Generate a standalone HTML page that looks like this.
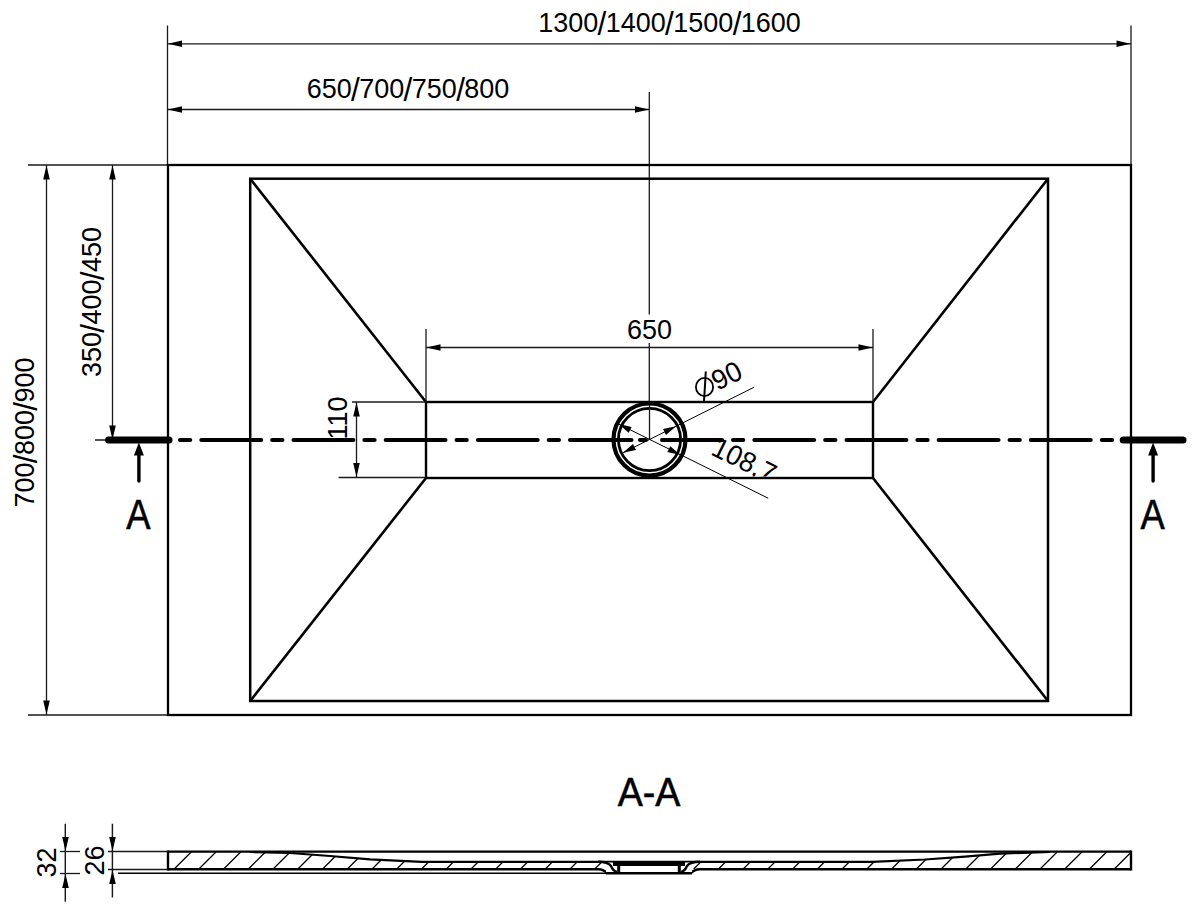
<!DOCTYPE html>
<html><head><meta charset="utf-8"><style>
html,body{margin:0;padding:0;background:#fff;}
svg{display:block;}
text{font-family:"Liberation Sans",sans-serif;fill:#000;}
</style></head><body>
<svg width="1200" height="904" viewBox="0 0 1200 904">
<rect width="1200" height="904" fill="#fff"/>
<line x1="167.5" y1="25.5" x2="167.5" y2="165" stroke="#1a1a1a" stroke-width="1.3" />
<line x1="1131" y1="25.5" x2="1131" y2="165" stroke="#1a1a1a" stroke-width="1.3" />
<line x1="167.5" y1="43.8" x2="1131" y2="43.8" stroke="#1a1a1a" stroke-width="1.3" />
<polygon points="168.00,43.80 182.00,40.50 182.00,47.10" fill="#000"/>
<polygon points="1130.50,43.80 1116.50,47.10 1116.50,40.50" fill="#000"/>
<text transform="translate(669.5 31.5) scale(0.957 1)" font-size="28.2" text-anchor="middle" >1300<tspan dx="-0.67" dy="3.30" font-size="33.00">/</tspan><tspan dx="-0.67" dy="-3.30">1400</tspan><tspan dx="-0.67" dy="3.30" font-size="33.00">/</tspan><tspan dx="-0.67" dy="-3.30">1500</tspan><tspan dx="-0.67" dy="3.30" font-size="33.00">/</tspan><tspan dx="-0.67" dy="-3.30">1600</tspan></text>
<line x1="167.5" y1="109.5" x2="649.5" y2="109.5" stroke="#1a1a1a" stroke-width="1.3" />
<polygon points="168.00,109.50 182.00,106.20 182.00,112.80" fill="#000"/>
<polygon points="649.00,109.50 635.00,112.80 635.00,106.20" fill="#000"/>
<text transform="translate(408 97.5) scale(0.957 1)" font-size="28.2" text-anchor="middle" >650<tspan dx="-0.67" dy="3.30" font-size="33.00">/</tspan><tspan dx="-0.67" dy="-3.30">700</tspan><tspan dx="-0.67" dy="3.30" font-size="33.00">/</tspan><tspan dx="-0.67" dy="-3.30">750</tspan><tspan dx="-0.67" dy="3.30" font-size="33.00">/</tspan><tspan dx="-0.67" dy="-3.30">800</tspan></text>
<line x1="649.3" y1="92" x2="649.3" y2="314.6" stroke="#1a1a1a" stroke-width="1.3" />
<line x1="649.3" y1="342.9" x2="649.3" y2="440" stroke="#1a1a1a" stroke-width="1.3" />
<line x1="28" y1="165" x2="167" y2="165" stroke="#1a1a1a" stroke-width="1.3" />
<line x1="28" y1="715" x2="167" y2="715" stroke="#1a1a1a" stroke-width="1.3" />
<line x1="95" y1="440" x2="167" y2="440" stroke="#1a1a1a" stroke-width="1.3" />
<line x1="46.5" y1="165" x2="46.5" y2="715" stroke="#1a1a1a" stroke-width="1.3" />
<polygon points="46.50,165.50 49.80,179.50 43.20,179.50" fill="#000"/>
<polygon points="46.50,714.50 43.20,700.50 49.80,700.50" fill="#000"/>
<line x1="112.5" y1="165" x2="112.5" y2="440" stroke="#1a1a1a" stroke-width="1.3" />
<polygon points="112.50,165.50 115.80,179.50 109.20,179.50" fill="#000"/>
<polygon points="112.50,439.50 109.20,425.50 115.80,425.50" fill="#000"/>
<text transform="translate(34 432.5) rotate(-90) scale(0.957 1)" font-size="28.2" text-anchor="middle" >700<tspan dx="-0.67" dy="3.30" font-size="33.00">/</tspan><tspan dx="-0.67" dy="-3.30">800</tspan><tspan dx="-0.67" dy="3.30" font-size="33.00">/</tspan><tspan dx="-0.67" dy="-3.30">900</tspan></text>
<text transform="translate(101 302) rotate(-90) scale(0.957 1)" font-size="28.2" text-anchor="middle" >350<tspan dx="-0.67" dy="3.30" font-size="33.00">/</tspan><tspan dx="-0.67" dy="-3.30">400</tspan><tspan dx="-0.67" dy="3.30" font-size="33.00">/</tspan><tspan dx="-0.67" dy="-3.30">450</tspan></text>
<rect x="168" y="165" width="963" height="550" fill="none" stroke="#000" stroke-width="2.3"/>
<rect x="250.2" y="178.7" width="797.8" height="522.3" fill="none" stroke="#000" stroke-width="2.5"/>
<rect x="426" y="402" width="447" height="76" fill="none" stroke="#000" stroke-width="2.4"/>
<line x1="250.2" y1="178.7" x2="426" y2="402" stroke="#000" stroke-width="2.6" />
<line x1="250.2" y1="701" x2="426" y2="478" stroke="#000" stroke-width="2.6" />
<line x1="1048" y1="178.7" x2="873" y2="402" stroke="#000" stroke-width="2.6" />
<line x1="1048" y1="701" x2="873" y2="478" stroke="#000" stroke-width="2.6" />
<line x1="426" y1="329" x2="426" y2="402" stroke="#1a1a1a" stroke-width="1.3" />
<line x1="873" y1="329" x2="873" y2="402" stroke="#1a1a1a" stroke-width="1.3" />
<line x1="426" y1="347.5" x2="873" y2="347.5" stroke="#1a1a1a" stroke-width="1.3" />
<polygon points="426.50,347.50 440.50,344.20 440.50,350.80" fill="#000"/>
<polygon points="872.50,347.50 858.50,350.80 858.50,344.20" fill="#000"/>
<text transform="translate(649.5 338.5) scale(0.957 1)" font-size="28.2" text-anchor="middle" >650</text>
<line x1="352" y1="402" x2="426" y2="402" stroke="#1a1a1a" stroke-width="1.3" />
<line x1="338.6" y1="477.5" x2="426" y2="477.5" stroke="#1a1a1a" stroke-width="1.3" />
<line x1="356.5" y1="402" x2="356.5" y2="477.5" stroke="#1a1a1a" stroke-width="1.3" />
<polygon points="356.50,402.50 359.80,416.50 353.20,416.50" fill="#000"/>
<polygon points="356.50,477.00 353.20,463.00 359.80,463.00" fill="#000"/>
<text transform="translate(347 418) rotate(-90) scale(0.957 1)" font-size="28.2" text-anchor="middle" >110</text>
<line x1="180" y1="440" x2="1112" y2="440" stroke="#000" stroke-width="4" stroke-linecap="round" stroke-dasharray="10.3 11 59.9 10.97"/>
<line x1="108.6" y1="440" x2="169" y2="440" stroke="#000" stroke-width="7" stroke-linecap="round"/>
<line x1="1123.2" y1="440" x2="1183" y2="440" stroke="#000" stroke-width="7" stroke-linecap="round"/>
<line x1="138.9" y1="455" x2="138.9" y2="481" stroke="#000" stroke-width="3.4" stroke-linecap="round"/>
<polygon points="138.9,442.6 143.9,455.5 133.9,455.5" fill="#000"/>
<line x1="1153.1" y1="455" x2="1153.1" y2="481" stroke="#000" stroke-width="3.4" stroke-linecap="round"/>
<polygon points="1153.1,442.6 1158.1,455.5 1148.1,455.5" fill="#000"/>
<text transform="translate(138.5 528.5) scale(0.86 1)" font-size="42.3" text-anchor="middle" stroke="#000" stroke-width="0.6">A</text>
<text transform="translate(1152.6 528.5) scale(0.86 1)" font-size="42.3" text-anchor="middle" stroke="#000" stroke-width="0.6">A</text>
<circle cx="649.5" cy="439.5" r="36.0" fill="#fff" stroke="#000" stroke-width="4.2"/>
<circle cx="649.5" cy="439.5" r="31.1" fill="none" stroke="#000" stroke-width="2.8"/>
<line x1="613" y1="440" x2="631.5" y2="440" stroke="#000" stroke-width="4" stroke-linecap="round"/>
<line x1="640" y1="440" x2="646" y2="440" stroke="#000" stroke-width="4" stroke-linecap="round"/>
<line x1="662" y1="440" x2="686" y2="440" stroke="#000" stroke-width="4" stroke-linecap="round"/>
<line x1="649.5" y1="405" x2="649.5" y2="440" stroke="#1a1a1a" stroke-width="1.3" />
<line x1="622.8460697082025" y1="452.8269651458987" x2="754.2" y2="387.2" stroke="#000" stroke-width="1" />
<polygon points="622.85,452.83 633.00,444.06 635.95,449.96" fill="#000"/>
<polygon points="676.15,426.17 666.00,434.94 663.05,429.04" fill="#000"/>
<line x1="618.5528191914029" y1="424.02640959570147" x2="768.2" y2="498.2" stroke="#000" stroke-width="1" />
<polygon points="618.55,424.03 631.66,426.89 628.70,432.79" fill="#000"/>
<polygon points="680.45,454.97 667.34,452.11 670.30,446.21" fill="#000"/>
<ellipse cx="704.5" cy="387" rx="8.6" ry="9.1" fill="none" stroke="#000" stroke-width="1.8"/>
<line x1="705.8" y1="371.5" x2="704" y2="401.5" stroke="#000" stroke-width="2" />
<text transform="translate(731 384.3) rotate(-26.57) scale(0.957 1)" font-size="28.2" text-anchor="middle" dx="0">90</text>
<clipPath id="c108"><rect x="690" y="430" width="120" height="46.5"/></clipPath>
<g clip-path="url(#c108)">
<text transform="translate(740 469) rotate(26.57) scale(0.957 1)" font-size="28.2" text-anchor="middle" >108,7</text>
</g>
<text transform="translate(649 805.8) scale(0.91 1)" font-size="41.3" text-anchor="middle" stroke="#000" stroke-width="0.6">A-A</text>
<line x1="65.3" y1="823.7" x2="65.3" y2="901.7" stroke="#1a1a1a" stroke-width="1.45" />
<line x1="60" y1="851.5" x2="80" y2="851.5" stroke="#1a1a1a" stroke-width="1.3" />
<line x1="60" y1="873.5" x2="80" y2="873.5" stroke="#1a1a1a" stroke-width="1.3" />
<polygon points="65.50,851.00 62.20,837.00 68.80,837.00" fill="#000"/>
<polygon points="65.50,874.00 68.80,888.00 62.20,888.00" fill="#000"/>
<line x1="112.4" y1="823.7" x2="112.4" y2="897.5" stroke="#1a1a1a" stroke-width="1.45" />
<line x1="108" y1="851.5" x2="168" y2="851.5" stroke="#1a1a1a" stroke-width="1.3" />
<line x1="108" y1="869.5" x2="168" y2="869.5" stroke="#1a1a1a" stroke-width="1.3" />
<polygon points="112.50,851.00 109.20,837.00 115.80,837.00" fill="#000"/>
<polygon points="112.50,870.00 115.80,884.00 109.20,884.00" fill="#000"/>
<text transform="translate(56 862.5) rotate(-90) scale(0.957 1)" font-size="28.2" text-anchor="middle" >32</text>
<text transform="translate(104 860.5) rotate(-90) scale(0.957 1)" font-size="28.2" text-anchor="middle" >26</text>
<clipPath id="csec"><path d="M168 852 L250 852 L290 853 L330 856 L370 859.3 L422 861.8 L872 861.8 L925 859.5 L965 856.6 L1000 853.6 L1050 852 L1131 852 L1131 869 L168 869 Z"/></clipPath>
<path clip-path="url(#csec)" d="M174.20 869 l17 -17 M198.94 869 l17 -17 M223.68 869 l17 -17 M248.42 869 l17 -17 M273.16 869 l17 -17 M297.90 869 l17 -17 M322.64 869 l17 -17 M347.38 869 l17 -17 M372.12 869 l17 -17 M396.86 869 l17 -17 M421.60 869 l17 -17 M446.34 869 l17 -17 M471.08 869 l17 -17 M495.82 869 l17 -17 M520.56 869 l17 -17 M545.30 869 l17 -17 M570.04 869 l17 -17 M594.78 869 l17 -17 M619.52 869 l17 -17 M644.26 869 l17 -17 M669.00 869 l17 -17 M693.74 869 l17 -17 M718.48 869 l17 -17 M743.22 869 l17 -17 M767.96 869 l17 -17 M792.70 869 l17 -17 M817.44 869 l17 -17 M842.18 869 l17 -17 M866.92 869 l17 -17 M891.66 869 l17 -17 M916.40 869 l17 -17 M941.14 869 l17 -17 M965.88 869 l17 -17 M990.62 869 l17 -17 M1015.36 869 l17 -17 M1040.10 869 l17 -17 M1064.84 869 l17 -17 M1089.58 869 l17 -17 M1114.32 869 l17 -17 M1139.06 869 l17 -17" stroke="#000" stroke-width="1.3" fill="none"/>
<path d="M168 851.6 L1131 851.6" stroke="#000" stroke-width="2.4"/>
<path d="M168 869.2 L598 869.2 Q604 869.2 607 873.3 M691 873.3 Q694 869.2 700 869.2 L1131 869.2" stroke="#000" stroke-width="2.4" fill="none"/>
<path d="M168 850.5 L168 870.5 M1131 850.5 L1131 870.5" stroke="#000" stroke-width="2.4"/>
<path d="M250 852 L290 853 L330 856 L370 859.3 L422 861.8 L872 861.8 L925 859.5 L965 856.6 L1000 853.6 L1050 852" stroke="#000" stroke-width="2.2" fill="none" stroke-linejoin="round"/>
<path d="M118 873.3 L607 873.3" stroke="#000" stroke-width="1.4" fill="none"/>
<rect x="606" y="862.5" width="86" height="10" fill="#fff"/>
<rect x="613" y="861" width="72" height="5" fill="#000"/>
<path d="M606 873.3 L692 873.3" stroke="#000" stroke-width="2.4"/>
<path d="M618.7 866 L618.7 873 M679.3 866 L679.3 873" stroke="#000" stroke-width="3"/>
<path d="M598 861.8 Q608 861.8 611 866 Q613 871 617 872 M681 872 Q685 871 687 866 Q690 861.8 700 861.8" stroke="#000" stroke-width="2.4" fill="none"/>
</svg>
</body></html>
